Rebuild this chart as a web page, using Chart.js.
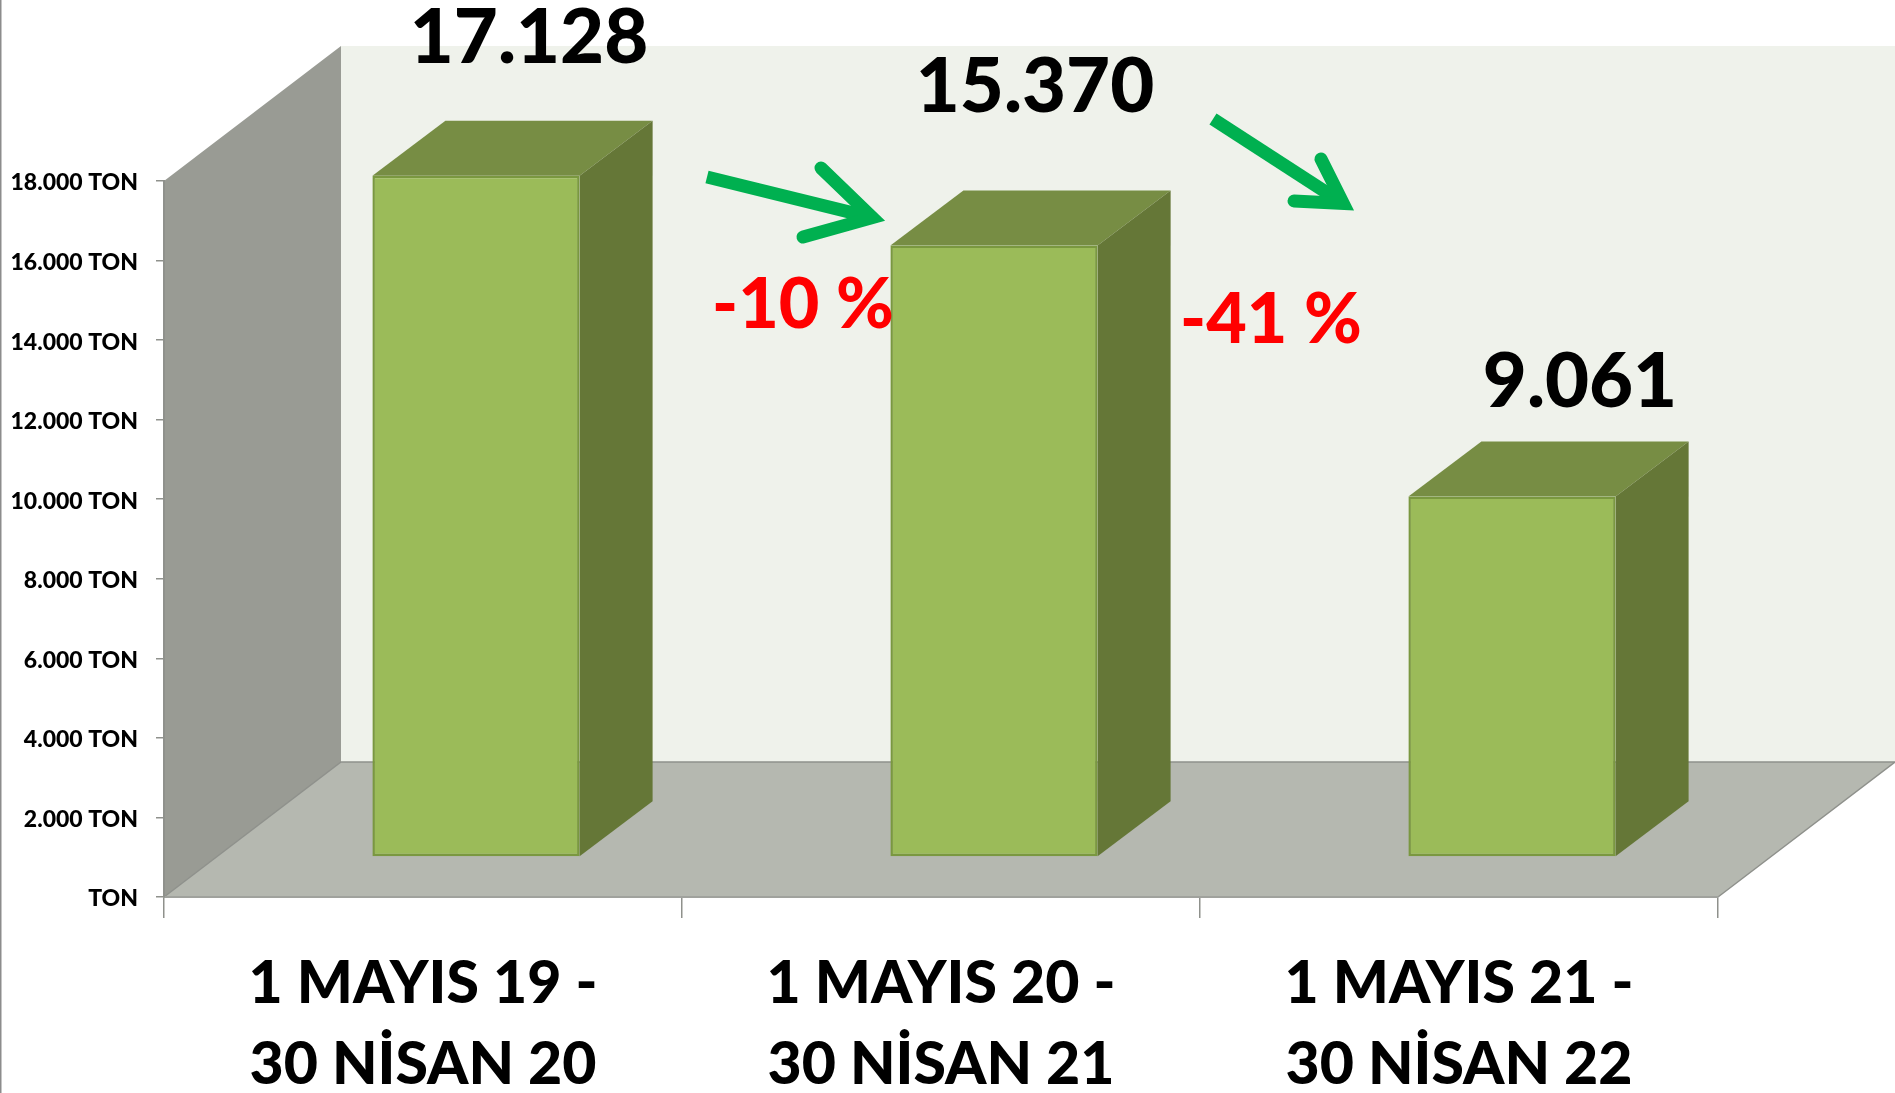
<!DOCTYPE html>
<html>
<head>
<meta charset="utf-8">
<title>Ton</title>
<script src="https://cdn.jsdelivr.net/npm/chart.js@4"></script>
<style>
    html, body { margin: 0; padding: 0; background: #fff; overflow: hidden; }
    canvas { display: block; }
</style>
</head>
<body>
<canvas id="tonChart" width="1895" height="1093"></canvas>
<script>
// data
const periods = [['1 MAYIS 19 -', '30 NİSAN 20'], ['1 MAYIS 20 -', '30 NİSAN 21'], ['1 MAYIS 21 -', '30 NİSAN 22']];
const tons = [17128, 15370, 9061];
const tonLabels = ['17.128', '15.370', '9.061'];
const yTicks = ['TON', '2.000 TON', '4.000 TON', '6.000 TON', '8.000 TON', '10.000 TON', '12.000 TON', '14.000 TON', '16.000 TON', '18.000 TON'];
const changes = ['-10 %', '-41 %'];

// fake 3d look, pixels
const roomDepth = { x: 177, y: -135 };
const barShift = { x: 53, y: -40 };
const barDepth = { x: 73, y: -55 };
const labelShift = [[106, -177], [94, -198], [121, -154]];
const changePos = [[803, 305], [1271, 320]];
const arrows = [
    { from: [707, 177], tip: [886, 221], a: [821, 168], b: [803, 237] },
    { from: [1213, 119], tip: [1355, 211], a: [1321, 159], b: [1294, 201] }
];

const fontFamily = 'Lato, sans-serif';

function poly(ctx, pts, color) {
    ctx.fillStyle = color;
    ctx.beginPath();
    pts.forEach((p, i) => i ? ctx.lineTo(p[0], p[1]) : ctx.moveTo(p[0], p[1]));
    ctx.closePath();
    ctx.fill();
}

const room = {
    id: 'room',
    beforeDraw(chart) {
        const { ctx, chartArea: { left, right, top, bottom } } = chart;
        const dx = roomDepth.x, dy = roomDepth.y;
        ctx.save();
        // edge of the slide on the left
        ctx.fillStyle = '#8c8c8c';
        ctx.fillRect(0, 0, 1.5, chart.height);
        // back wall
        poly(ctx, [[left + dx, top + dy], [right + dx, top + dy], [right + dx, bottom + dy], [left + dx, bottom + dy]], '#eff2eb');
        // side wall
        poly(ctx, [[left, top], [left + dx, top + dy], [left + dx, bottom + dy], [left, bottom]], '#999b94');
        // floor
        poly(ctx, [[left, bottom], [left + dx, bottom + dy], [right + dx, bottom + dy], [right, bottom]], '#b5b8b0');
        ctx.strokeStyle = '#8f918c';
        ctx.lineWidth = 1.5;
        ctx.beginPath();
        ctx.moveTo(left, bottom);
        ctx.lineTo(left + dx, bottom + dy);
        ctx.lineTo(right + dx, bottom + dy);
        ctx.lineTo(right, bottom);
        ctx.stroke();
        ctx.restore();
    }
};

const boxes = {
    id: 'boxes',
    beforeDatasetsDraw(chart) {
        const ctx = chart.ctx;
        ctx.save();
        ctx.translate(barShift.x, barShift.y);
        chart.getDatasetMeta(0).data.forEach(bar => {
            const l = bar.x - bar.width / 2, r = bar.x + bar.width / 2;
            const dx = barDepth.x, dy = barDepth.y;
            poly(ctx, [[l, bar.y], [l + dx, bar.y + dy], [r + dx, bar.y + dy], [r, bar.y]], '#778d44');
            poly(ctx, [[r, bar.y], [r + dx, bar.y + dy], [r + dx, bar.base + dy], [r, bar.base]], '#657737');
        });
    },
    afterDatasetsDraw(chart) {
        const ctx = chart.ctx;
        ctx.restore();

        ctx.save();
        ctx.textAlign = 'center';
        ctx.textBaseline = 'middle';

        // value over every box
        ctx.fillStyle = '#000';
        ctx.font = '900 76px ' + fontFamily;
        chart.getDatasetMeta(0).data.forEach((bar, i) => {
            ctx.fillText(tonLabels[i], bar.x + labelShift[i][0], bar.y + labelShift[i][1]);
        });

        // percent change
        ctx.fillStyle = '#ff0000';
        ctx.font = '900 70px ' + fontFamily;
        changes.forEach((t, i) => ctx.fillText(t, changePos[i][0], changePos[i][1]));

        // green arrows
        ctx.strokeStyle = '#00b050';
        ctx.lineWidth = 13;
        arrows.forEach(ar => {
            ctx.lineCap = 'butt';
            ctx.beginPath();
            ctx.moveTo(ar.from[0], ar.from[1]);
            ctx.lineTo((ar.tip[0] * 9 + ar.from[0]) / 10, (ar.tip[1] * 9 + ar.from[1]) / 10);
            ctx.stroke();
            ctx.lineCap = 'round';
            ctx.lineJoin = 'miter';
            ctx.miterLimit = 10;
            // the outer tip sticks out past the joint because of the miter
            const ux = ar.tip[0] - ar.from[0], uy = ar.tip[1] - ar.from[1];
            const len = Math.hypot(ux, uy);
            const jx = ar.tip[0] - ux / len * 14, jy = ar.tip[1] - uy / len * 14;
            ctx.beginPath();
            ctx.moveTo(ar.a[0], ar.a[1]);
            ctx.lineTo(jx, jy);
            ctx.lineTo(ar.b[0], ar.b[1]);
            ctx.stroke();
        });
        ctx.restore();
    }
};

const chart = new Chart(document.getElementById('tonChart'), {
    type: 'bar',
    data: {
        labels: periods,
        datasets: [{
            data: tons,
            backgroundColor: '#9bbb59',
            borderColor: '#7a9840',
            borderWidth: 2.5,
            borderSkipped: false,
            barPercentage: 0.4,
            categoryPercentage: 1,
            clip: false
        }]
    },
    options: {
        responsive: false,
        animation: false,
        layout: { padding: { top: 181, right: 177, left: 0, bottom: 0 } },
        plugins: { legend: { display: false }, title: { display: false }, tooltip: { enabled: false } },
        scales: {
            x: {
                afterFit: scale => { scale.height = 196; },
                border: { color: '#a0a29d', width: 2 },
                grid: { drawOnChartArea: false, color: '#8f918c', lineWidth: 1.5, tickLength: 21, offset: true },
                ticks: {
                    color: '#000',
                    padding: 25,
                    maxRotation: 0,
                    autoSkip: false,
                    font: { family: fontFamily, weight: '900', size: 59, lineHeight: 1.375 }
                }
            },
            y: {
                min: 0,
                max: 18000,
                afterFit: scale => { scale.width = 164; },
                border: { color: '#8f918c', width: 2 },
                grid: { drawOnChartArea: false, color: '#8f918c', lineWidth: 1.5, tickLength: 8 },
                ticks: {
                    stepSize: 2000,
                    color: '#000',
                    padding: 18,
                    labelOffset: 2,
                    font: { family: fontFamily, weight: '900', size: 23 },
                    callback: (v, i) => yTicks[i]
                }
            }
        }
    },
    plugins: [room, boxes]
});
</script>
</body>
</html>
